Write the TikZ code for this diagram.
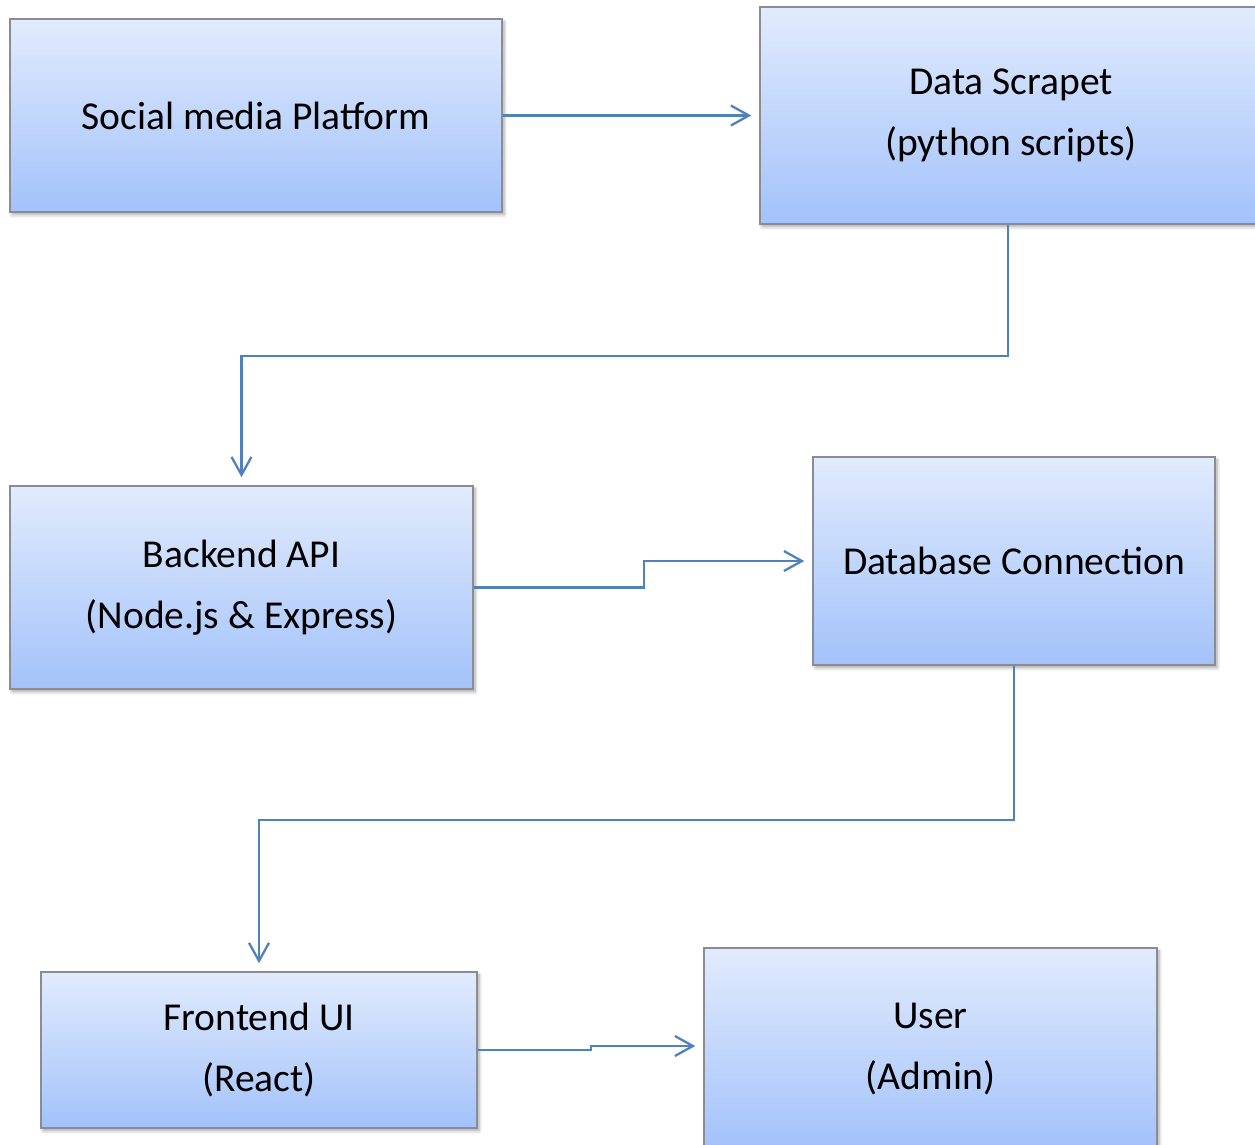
\documentclass[tikz,border=0pt]{standalone}
\usepackage{fontspec}
\setmainfont{Carlito}
\usepackage{xcolor}
\definecolor{boxtop}{HTML}{E1EBFD}
\definecolor{boxbottom}{HTML}{A3C2FA}
\definecolor{boxedge}{HTML}{8A8C94}
\definecolor{flowblue}{HTML}{4F81BD}
\usepackage{tikz}
\usetikzlibrary{arrows.meta,shadows.blur}

\begin{document}
\begin{tikzpicture}[
        x=0.02cm, y=-0.02cm,
        block/.style={rectangle, draw=boxedge, line width=0.9pt, top color=boxtop, bottom color=boxbottom, align=center, inner sep=0pt,
            font=\fontsize{22.5}{35}\selectfont,
            blur shadow={shadow xshift=1.2pt, shadow yshift=-1.6pt, shadow blur steps=6, shadow opacity=35}},
        relation/.style={-{Straight Barb[length=0.36cm, width=0.4cm, line width=1.3pt]}, draw=flowblue, line width=1.4pt, shorten >=0.16cm}
    ]
        \useasboundingbox (0,0) rectangle (1255,1144);

        % Source
        \node[block, minimum width=9.84cm, minimum height=3.86cm] (social) at (256,115.5) {Social media Platform};

        % Scraper
        \node[block, minimum width=10.04cm, minimum height=4.34cm] (scraper) at (1011,115.5) {Data Scrapet\\(python scripts)};

        % Backend
        \node[block, minimum width=9.26cm, minimum height=4.06cm] (backend) at (241.5,587.5) {Backend API\\(Node.js \& Express)};

        % Database
        \node[block, minimum width=8.04cm, minimum height=4.16cm] (database) at (1014,561) {Database Connection};

        % Frontend
        \node[block, minimum width=8.72cm, minimum height=3.12cm] (frontend) at (259,1050) {Frontend UI\\(React)};

        % User
        \node[block, minimum width=9.06cm, minimum height=4.04cm] (user) at (930.5,1049) {User\\(Admin)};

        % Flow
        \draw[relation] (social.east) -- (scraper.west);
        \draw[relation] ([xshift=-0.06cm]scraper.south) -- ++(0,131) -| (backend.north);
        \draw[relation] (backend.east) -- ++(170,0) |- (database.west);
        \draw[relation] (database.south) -- ++(0,154) -| (frontend.north);
        \draw[relation] (frontend.east) -- ++(113,0) |- ([yshift=0.06cm]user.west);

    \end{tikzpicture}
\end{document}
